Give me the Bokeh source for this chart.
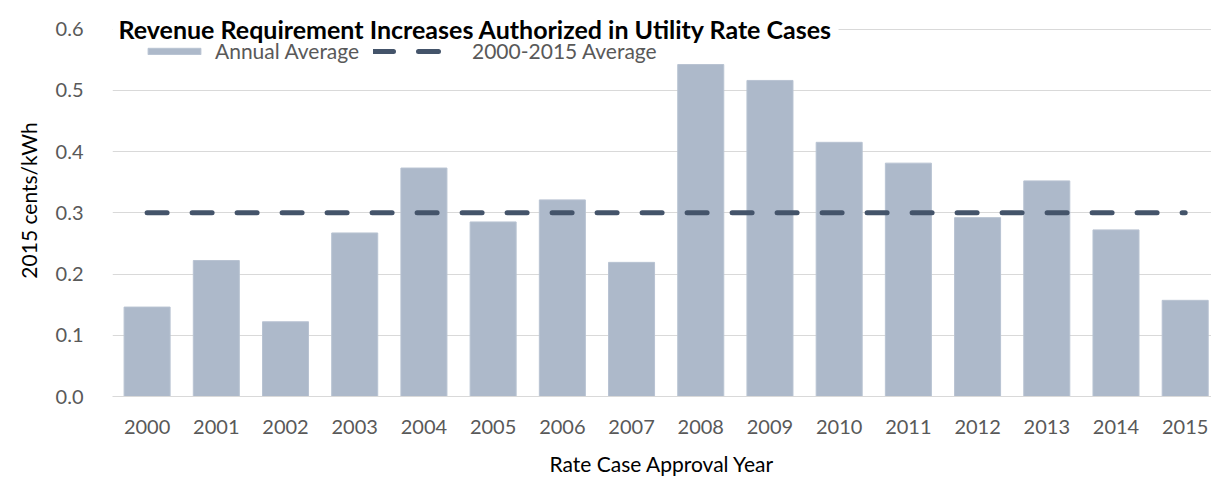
from bokeh.plotting import figure
from bokeh.models import (Range1d, FixedTicker, NumeralTickFormatter, Label,
                          Legend, LegendItem, ColumnDataSource)
from bokeh.embed import file_html
from bokeh.resources import INLINE

years = [2000, 2001, 2002, 2003, 2004, 2005, 2006, 2007,
         2008, 2009, 2010, 2011, 2012, 2013, 2014, 2015]
annual_average = [0.146, 0.222, 0.122, 0.267, 0.373, 0.285, 0.321, 0.219,
                  0.542, 0.516, 0.415, 0.381, 0.292, 0.352, 0.272, 0.157]
period_average = [0.30] * len(years)
y_ticks = [0.0, 0.1, 0.2, 0.3, 0.4, 0.5, 0.6]

title_text = "Revenue Requirement Increases Authorized in Utility Rate Cases"
FONT = "Lato"
BAR = "#ADB9CA"
LINE = "#44546A"
GRID = "#D9D9D9"
TICK = "#595959"

src = ColumnDataSource(dict(year=years, val=annual_average, avg=period_average))

p = figure(width=1211, height=478, output_backend="svg", toolbar_location=None,
           x_range=Range1d(1999.5, 2015.38), y_range=Range1d(0, 0.64),
           min_border_left=112, min_border_right=0, min_border_top=4,
           min_border_bottom=82, outline_line_color=None)
p.background_fill_color = "white"
p.border_fill_color = "white"

bars = p.vbar(x="year", top="val", width=0.665, source=src,
              fill_color=BAR, line_color="#B8C3D2", line_width=1)
avg = p.line(x="year", y="avg", source=src, line_color=LINE, line_width=5,
             line_dash="20 25", line_cap="round")

# axes
p.xaxis.ticker = FixedTicker(ticks=years)
p.xaxis.formatter.use_scientific = False
p.xaxis.axis_line_color = GRID
p.xaxis.major_tick_line_color = None
p.xaxis.minor_tick_line_color = None
p.xaxis.major_label_standoff = 17
p.xaxis.major_label_text_font = FONT
p.xaxis.major_label_text_font_size = "20px"
p.xaxis.major_label_text_color = TICK
p.xaxis.axis_label = "Rate Case Approval Year"
p.xaxis.axis_label_text_font = FONT
p.xaxis.axis_label_text_font_style = "normal"
p.xaxis.axis_label_text_font_size = "21px"
p.xaxis.axis_label_text_color = "#000000"
p.xaxis.axis_label_standoff = 14

p.yaxis.ticker = FixedTicker(ticks=y_ticks)
p.yaxis.formatter = NumeralTickFormatter(format="0.0")
p.yaxis.axis_line_color = None
p.yaxis.major_tick_line_color = None
p.yaxis.minor_tick_line_color = None
p.yaxis.major_label_standoff = 23
p.yaxis.major_label_text_font = FONT
p.yaxis.major_label_text_font_size = "20px"
p.yaxis.major_label_text_color = TICK
p.yaxis.axis_label = "2015 cents/kWh"
p.yaxis.axis_label_text_font = FONT
p.yaxis.axis_label_text_font_style = "normal"
p.yaxis.axis_label_text_font_size = "21px"
p.yaxis.axis_label_text_color = "#000000"
p.yaxis.axis_label_standoff = 12

p.xgrid.grid_line_color = None
p.ygrid.grid_line_color = GRID
p.ygrid.grid_line_width = 1
p.ygrid.ticker = FixedTicker(ticks=y_ticks)

# title overlaid at top of the plot area, on the 0.6 gridline
title = Label(x=0, y=0.6, x_units="screen", y_units="data", text=title_text,
              text_font=FONT, text_font_style="bold", text_font_size="25px",
              text_color="#000000", text_baseline="middle", text_align="left",
              background_fill_color="white", padding=6)
p.add_layout(title)

leg1 = Legend(items=[LegendItem(label="Annual Average", renderers=[bars])],
              location=(29, 333), orientation="horizontal",
              glyph_width=66, glyph_height=8, label_standoff=8,
              padding=0, margin=0, border_line_alpha=0, background_fill_alpha=0,
              label_text_font=FONT, label_text_font_size="21px",
              label_text_color=TICK)
leg2 = Legend(items=[LegendItem(label="2000-2015 Average", renderers=[avg])],
              location=(261, 333), orientation="horizontal",
              glyph_width=70, glyph_height=8, label_standoff=29,
              padding=0, margin=0, border_line_alpha=0, background_fill_alpha=0,
              label_text_font=FONT, label_text_font_size="21px",
              label_text_color=TICK)
p.add_layout(leg1)
p.add_layout(leg2)

open("out.html", "w").write(file_html(p, INLINE))
